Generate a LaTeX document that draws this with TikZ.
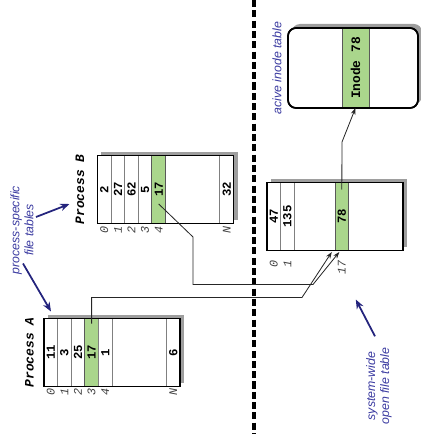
\documentclass[tikz,border=0pt]{standalone}
\usepackage{fontspec}
\usepackage{graphicx}
\usepackage{tikz}
\usetikzlibrary{arrows.meta, positioning, calc, shadows}
\setmainfont{Liberation Sans}
\setmonofont{Liberation Mono}
\definecolor{cGreen}{RGB}{170,214,140}
\definecolor{cNavy}{RGB}{36,36,125}
\definecolor{cNote}{RGB}{58,58,160}
\newcommand{\vt}[1]{\rotatebox{90}{#1}}
\tikzset{
	tblbox/.style  ={rectangle, draw=black, line width=1.6pt, fill=white, minimum width=4.08cm, minimum height=2.04cm, inner sep=0pt, outer sep=0pt, drop shadow={shadow xshift=0.12cm, shadow yshift=0.12cm, fill=black!38, opacity=1}},
	tblline/.style ={draw=black, line width=1.6pt},
	cell/.style    ={rectangle, draw=black!50, line width=0.7pt, minimum width=0.408cm, minimum height=2.04cm, inner sep=0pt, outer sep=0pt, font=\ttfamily\bfseries\fontsize{10.5}{12}\selectfont},
	hot/.style     ={cell, fill=cGreen, draw=black!65},
	idx/.style     ={inner sep=0pt, text=black!75, font=\ttfamily\itshape\fontsize{10}{12}\selectfont},
	plabel/.style  ={inner sep=0pt, font=\ttfamily\bfseries\itshape\fontsize{11}{13}\selectfont},
	note/.style    ={rotate=90, align=center, inner sep=1pt, text=cNote, font=\itshape\fontsize{10.5}{12}\selectfont},
	notearrow/.style={-{Stealth[length=2.8mm, width=2.2mm]}, line width=1.5pt, cNavy},
	link/.style    ={-{Stealth[length=2mm, width=1.4mm]}, line width=0.7pt, black!85},
	divider/.style ={line width=2.6pt, dash pattern=on 6pt off 2.8pt},
}
\begin{document}
\begin{tikzpicture}[x=0.03cm, y=-0.03cm]
	\useasboundingbox (0,0) rectangle (420,448);
	\draw[divider] (254,0) -- (254,434);
	% process A
	\node[tblbox] (A) at (112,352.5) {};
	\node[cell, right=0pt of A.west] (a0) {\vt{11}};
	\node[cell, right=0pt of a0] (a1) {\vt{3}};
	\node[cell, right=0pt of a1] (a2) {\vt{25}};
	\node[hot, right=0pt of a2] (a3) {\vt{17}};
	\node[cell, right=0pt of a3] (a4) {\vt{1}};
	\node[cell, left=0pt of A.east] (aN) {\vt{6}};
	\draw[tblline] (A.north west) rectangle (A.south east);
	\node[plabel, left=0.3cm of A] (pA) {\vt{Process A}};
	\node[idx, below=0.06cm of a0] (ia0) {\vt{0}};
	\node[idx, below=0.06cm of a1] (ia1) {\vt{1}};
	\node[idx, below=0.06cm of a2] (ia2) {\vt{2}};
	\node[idx, below=0.06cm of a3] (ia3) {\vt{3}};
	\node[idx, below=0.06cm of a4] (ia4) {\vt{4}};
	\node[idx, below=0.06cm of aN] (iaN) {\vt{N}};
	% process B
	\node[tblbox] (B) at (165.5,189.5) {};
	\node[cell, right=0pt of B.west] (b0) {\vt{2}};
	\node[cell, right=0pt of b0] (b1) {\vt{27}};
	\node[cell, right=0pt of b1] (b2) {\vt{62}};
	\node[cell, right=0pt of b2] (b3) {\vt{5}};
	\node[hot, right=0pt of b3] (b4) {\vt{17}};
	\node[cell, left=0pt of B.east] (bN) {\vt{32}};
	\draw[tblline] (B.north west) rectangle (B.south east);
	\node[plabel, left=0.39cm of B] (pB) {\vt{Process B}};
	\node[idx, below=0.08cm of b0] (ib0) {\vt{0}};
	\node[idx, below=0.08cm of b1] (ib1) {\vt{1}};
	\node[idx, below=0.08cm of b2] (ib2) {\vt{2}};
	\node[idx, below=0.08cm of b3] (ib3) {\vt{3}};
	\node[idx, below=0.08cm of b4] (ib4) {\vt{4}};
	\node[idx, below=0.08cm of bN] (ibN) {\vt{N}};
	% open file table
	\node[tblbox] (F) at (335,216.5) {};
	\node[cell, right=0pt of F.west] (f0) {\vt{47}};
	\node[cell, right=0pt of f0] (f1) {\vt{135}};
	\node[hot, right=1.224cm of f1] (f17) {\vt{78}};
	\draw[tblline] (F.north west) rectangle (F.south east);
	\node[idx, below=0.3cm of f0] (if0) {\vt{0}};
	\node[idx, below=0.3cm of f1] (if1) {\vt{1}};
	\node[idx, below=0.3cm of f17] (if17) {\vt{17}};
	% inode table
	\node[tblbox, rounded corners=0.24cm, minimum width=3.9cm, minimum height=2.4cm, line width=1.4pt] (I) at (353,68) {};
	\node[hot, minimum width=0.81cm, minimum height=2.4cm, right=1.62cm of I.west, font=\ttfamily\bfseries\fontsize{11}{13}\selectfont] (i78) {\vt{Inode 78}};
	\draw[tblline, rounded corners=0.24cm, line width=1.4pt] (I.north west) rectangle (I.south east);
	% pointers
	\coordinate (jA) at (302,297.5);
	\coordinate (kB) at (193,237);
	\coordinate (jB) at (313,284.5);
	\coordinate (kF) at (342,142);
	\draw[link] ($(a3.north)+(0,5)$) |- (jA) -- ($(f17.south)+(-10,1.5)$);
	\draw[link] ($(b4.center)+(0,14.5)$) -- (kB) |- (jB) -- ($(f17.south)+(-2.5,1.5)$);
	\draw[link] ($(f17.north)+(0,7)$) -- (kF) -- (i78.south);
	% notes
	\node[note] (pf) at (22,230) {process-specific\\file tables};
	\node[note] (sw) at (379,386) {system-wide\\open file table};
	\node[note] (ai) at (277,68) {acive inode table};
	\draw[notearrow] ($(pf.south)+(1,-13)$) -- ($(B.west)+(-28,14.5)$);
	\draw[notearrow] ($(pf.west)+(1,-12)$) -- ($(A.north west)+(7,-7)$);
	\draw[notearrow] ($(sw.east)+(-4,-10)$) -- ($(f17.south)+(14,49)$);
\end{tikzpicture}
\end{document}
